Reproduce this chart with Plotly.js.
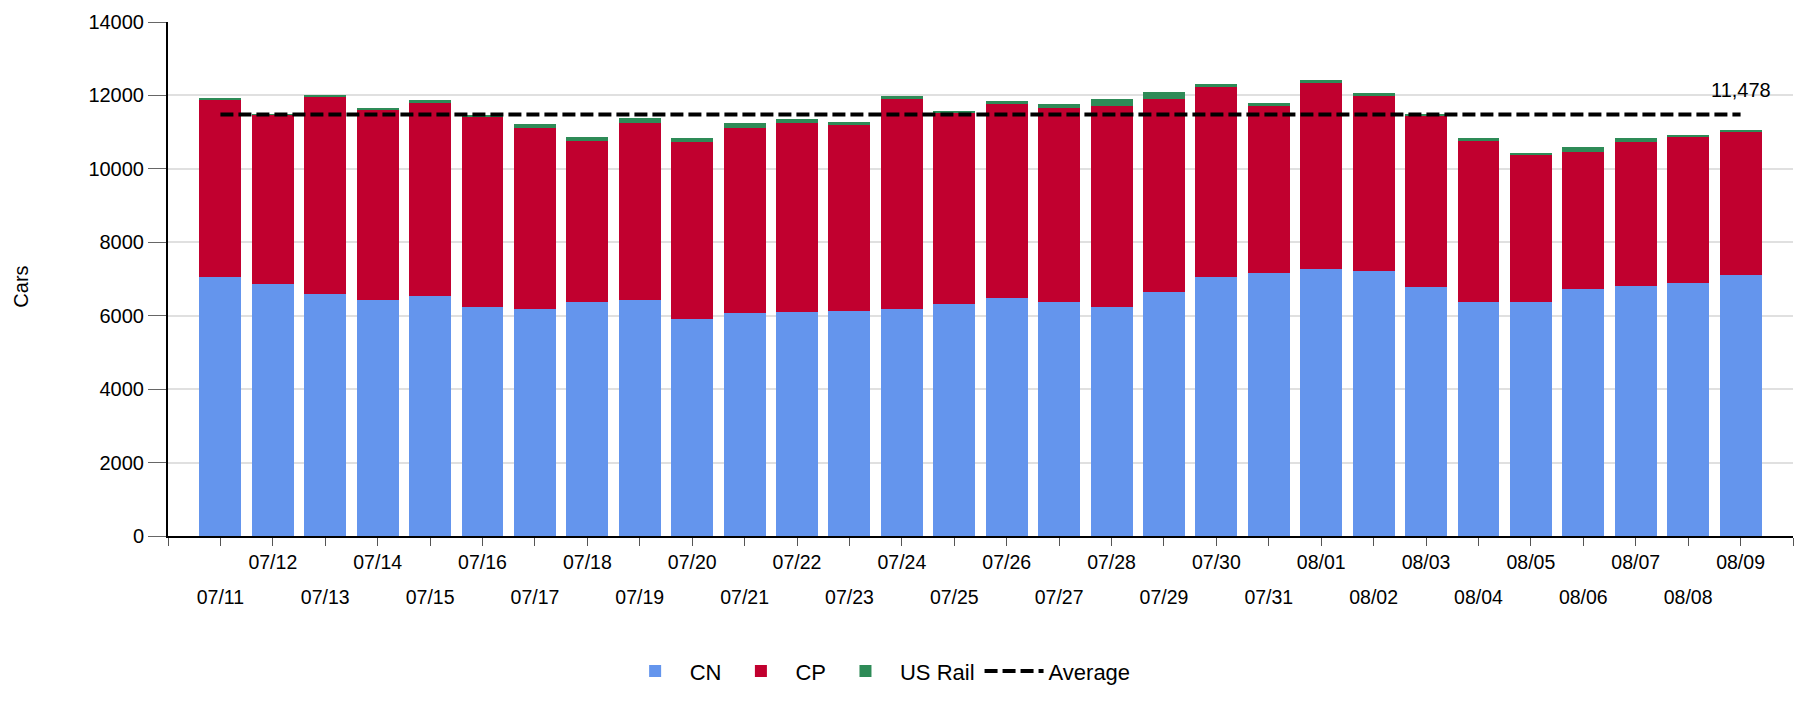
<!DOCTYPE html>
<html>
<head>
<meta charset="utf-8">
<script src="https://cdn.plot.ly/plotly-3.0.1.min.js"></script>
<style>
html,body{margin:0;padding:0;background:#fff;}
#chart{width:1803px;height:702px;}
</style>
</head>
<body>
<div id="chart"></div>
<script>
// ---- data ----
var dates = ["07/11","07/12","07/13","07/14","07/15","07/16","07/17","07/18","07/19","07/20",
             "07/21","07/22","07/23","07/24","07/25","07/26","07/27","07/28","07/29","07/30",
             "07/31","08/01","08/02","08/03","08/04","08/05","08/06","08/07","08/08","08/09"];
var cn = [7045,6870,6585,6425,6550,6240,6185,6365,6425,5920,
          6062,6098,6133,6185,6330,6480,6375,6245,6655,7045,
          7165,7270,7215,6780,6370,6365,6719,6808,6888,7102];
var cp = [4839,4597,5371,5193,5254,5173,4917,4390,4837,4809,
          5040,5164,5049,5717,5200,5280,5287,5479,5247,5186,
          4559,5059,4767,4660,4403,4026,3743,3921,3983,3902];
var usRail = [45,17,62,44,63,54,116,107,125,106,
              142,107,107,80,52,89,107,187,187,80,
              72,80,71,36,54,36,133,98,53,45];
var averageValue = 11478;
var yTitle = "Cars";

// ---- derived ----
var idx = dates.map(function(d,i){return i;});
var avgLine = dates.map(function(){return averageValue;});
var tickMarks = [];
for (var t=-1; t<=dates.length; t++) tickMarks.push(t);
var topText = tickMarks.map(function(t){ return (t>=0 && t<dates.length && t%2===1) ? dates[t] : ""; });
var lowVals = idx.filter(function(i){return i%2===0;});
var lowText = lowVals.map(function(i){return dates[i];});

var FONT = "Liberation Sans, Arial, sans-serif";

var traces = [
  {type:"bar", name:"CN", x:idx, y:cn, marker:{color:"#6495ED"}, hoverinfo:"y+name"},
  {type:"bar", name:"CP", x:idx, y:cp, marker:{color:"#C1002F"}, hoverinfo:"y+name"},
  {type:"bar", name:"US Rail", x:idx, y:usRail, marker:{color:"#2E8B57"}, hoverinfo:"y+name"},
  {type:"scatter", mode:"lines", name:"Average", x:idx, y:avgLine, xaxis:"x2", yaxis:"y",
   line:{color:"#000", width:4, dash:"13px,5px"}, hoverinfo:"y+name"}
];

var layout = {
  width:1803, height:702,
  margin:{l:168, r:10, t:22, b:152},
  barmode:"stack", bargap:0.2,
  paper_bgcolor:"#fff", plot_bgcolor:"#fff",
  font:{family:FONT, color:"#000", size:19},
  showlegend:true,
  legend:{orientation:"h", x:0.437, xanchor:"center", y:-0.263, yanchor:"middle",
          font:{family:FONT, size:22, color:"#000"}, itemwidth:59, traceorder:"normal"},
  xaxis:{type:"linear", range:[-1, dates.length], tickmode:"array", tickvals:tickMarks, ticktext:topText,
         ticks:"outside", ticklen:8, tickwidth:1, tickcolor:"#555",
         showline:true, linecolor:"#000", linewidth:2, showgrid:false, zeroline:false,
         tickfont:{family:FONT, size:19.5, color:"#000"}},
  xaxis2:{type:"linear", overlaying:"x", anchor:"y", side:"bottom", range:[-1, dates.length],
          tickmode:"array", tickvals:lowVals, ticktext:lowText, ticks:"", ticklabelstandoff:47,
          showline:false, showgrid:false, zeroline:false,
          tickfont:{family:FONT, size:19.5, color:"#000"}},
  yaxis:{range:[0,14000], tickmode:"linear", tick0:0, dtick:2000, tickformat:"d",
         ticks:"outside", ticklen:18, tickwidth:1, tickcolor:"#666",
         showline:true, linecolor:"#000", linewidth:2,
         showgrid:true, gridcolor:"#e0e0e0", gridwidth:2, zeroline:false,
         tickfont:{family:FONT, size:20, color:"#000"}},
  annotations:[
    {x:idx[idx.length-1], y:averageValue, xref:"x", yref:"y", text:averageValue.toLocaleString("en-US"),
     showarrow:false, yshift:25, font:{family:FONT, size:20, color:"#000"}},
    {x:-0.0905, y:0.485, xref:"paper", yref:"paper", text:yTitle, textangle:-90,
     xanchor:"center", yanchor:"middle", showarrow:false, font:{family:FONT, size:20, color:"#000"}}
  ]
};

Plotly.newPlot("chart", traces, layout, {displayModeBar:false, responsive:false});
</script>
</body>
</html>
